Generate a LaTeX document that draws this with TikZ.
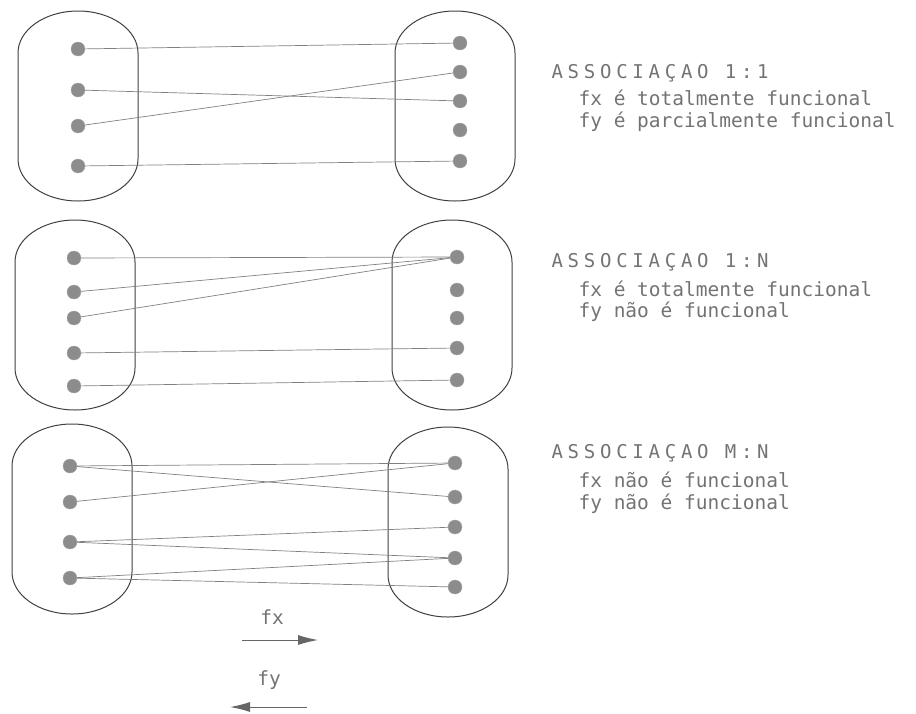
\documentclass[tikz,border=0pt]{standalone}
\usepackage{fontspec}
\setmonofont{DejaVu Sans Mono}
\usetikzlibrary{arrows.meta}

\begin{document}
\begin{tikzpicture}[
  x=1pt, y=-1pt,
  % Define styles for sets, elements and links
  dot/.style={circle, fill=black!45, draw=black!35, inner sep=0pt, minimum size=14pt},
  link/.style={draw=black!50, line width=0.7pt},
  conj/.pic={\draw[black!75, line width=1pt] (-60,-53) arc[start angle=180, end angle=360, x radius=60, y radius=42]
      -- (60,53) arc[start angle=0, end angle=180, x radius=60, y radius=42] -- cycle;},
  title/.style={anchor=west, text=black!55, font=\ttfamily\fontsize{19}{19}\selectfont\addfontfeature{LetterSpace=25}},
  note/.style={anchor=west, text=black!55, font=\ttfamily\fontsize{19.5}{19.5}\selectfont},
  seta/.style={draw=black!60, line width=1pt, -{Latex[length=20pt, width=10pt]}}
]
  \useasboundingbox (0,0) rectangle (916,713);

  % Associacao 1:1
  \pic at (78,106) {conj};
  \pic at (455,106) {conj};
  \node[dot] (a1) at (78,49) {};  \node[dot] (a2) at (78,90) {};
  \node[dot] (a3) at (78,126) {}; \node[dot] (a4) at (78,166) {};
  \node[dot] (b1) at (460,43) {};  \node[dot] (b2) at (460,72) {};
  \node[dot] (b3) at (460,101) {}; \node[dot] (b4) at (460,130) {};
  \node[dot] (b5) at (460,161) {};
  \draw[link] (a1) -- (b1);
  \draw[link] (a2) -- (b3);
  \draw[link] (a3) -- (b2);
  \draw[link] (a4) -- (b5);
  \node[title] (t1) at (548,73) {ASSOCIAÇAO 1:1};
  \node[note] (t1x) at (575,98) {fx é totalmente funcional};
  \node[note] (t1y) at (575,122) {fy é parcialmente funcional};

  % Associacao 1:N
  \pic at (75,315) {conj};
  \pic at (452,315) {conj};
  \node[dot] (c1) at (74,258) {};  \node[dot] (c2) at (74,292) {};
  \node[dot] (c3) at (74,318) {};  \node[dot] (c4) at (74,353) {};
  \node[dot] (c5) at (74,386) {};
  \node[dot] (d1) at (457,257) {}; \node[dot] (d2) at (457,290) {};
  \node[dot] (d3) at (457,318) {}; \node[dot] (d4) at (457,348) {};
  \node[dot] (d5) at (457,380) {};
  \draw[link] (c1) -- (d1);
  \draw[link] (c2) -- (d1);
  \draw[link] (c3) -- (d1);
  \draw[link] (c4) -- (d4);
  \draw[link] (c5) -- (d5);
  \node[title] (t2) at (548,262) {ASSOCIAÇAO 1:N};
  \node[note] (t2x) at (575,289) {fx é totalmente funcional};
  \node[note] (t2y) at (575,312) {fy não é funcional};

  % Associacao M:N
  \pic at (72,519) {conj};
  \pic at (448,522) {conj};
  \node[dot] (e1) at (70,466) {};  \node[dot] (e2) at (70,502) {};
  \node[dot] (e3) at (70,542) {};  \node[dot] (e4) at (70,578) {};
  \node[dot] (f1) at (455,463) {}; \node[dot] (f2) at (455,497) {};
  \node[dot] (f3) at (455,527) {}; \node[dot] (f4) at (455,558) {};
  \node[dot] (f5) at (455,587) {};
  \draw[link] (e1) -- (f1);
  \draw[link] (e1) -- (f2);
  \draw[link] (e2) -- (f1);
  \draw[link] (e3) -- (f3);
  \draw[link] (e3) -- (f4);
  \draw[link] (e4) -- (f4);
  \draw[link] (e4) -- (f5);
  \node[title] (t3) at (548,453) {ASSOCIAÇAO M:N};
  \node[note] (t3x) at (575,480) {fx não é funcional};
  \node[note] (t3y) at (575,504) {fy não é funcional};

  % Legend
  \node[note, anchor=center] (fx) at (272,617) {fx};
  \coordinate (fx1) at (242,640);
  \coordinate (fx2) at (318,640);
  \draw[seta] (fx1) -- (fx2);
  \node[note, anchor=center] (fy) at (269,680) {fy};
  \coordinate (fy1) at (307,707);
  \coordinate (fy2) at (230,707);
  \draw[seta] (fy1) -- (fy2);
\end{tikzpicture}
\end{document}
